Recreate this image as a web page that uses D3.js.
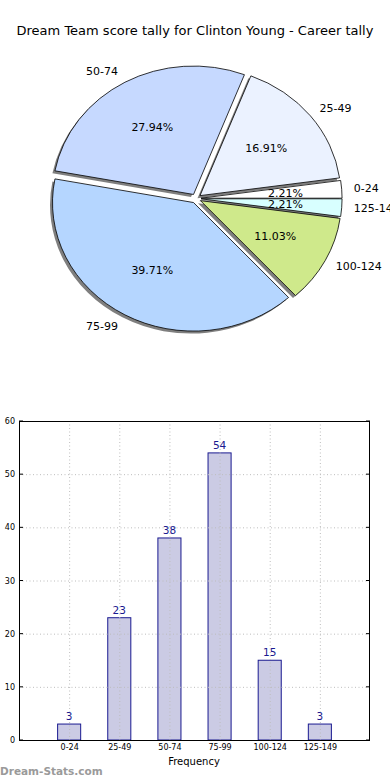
<!DOCTYPE html>
<html><head><meta charset="utf-8">
<script src="https://cdn.jsdelivr.net/npm/d3@7"></script>
<style>
html,body{margin:0;padding:0;background:#fff;}
svg{display:block;font-family:"DejaVu Sans",sans-serif;}
</style></head>
<body><svg id="c" width="390" height="780"></svg>
<script>
const title = "Dream Team score tally for Clinton Young - Career tally";
const categories = ["0-24","25-49","50-74","75-99","100-124","125-149"];
const counts = [3, 23, 38, 54, 15, 3];
const pieColors = ["#ffffff","#ebf2ff","#c6d9ff","#b5d6ff","#cfe98b","#d8ffff"];
const yTicks = [0,10,20,30,40,50,60];

const svg = d3.select("#c");
svg.append("text").attr("x",195).attr("y",35).attr("text-anchor","middle")
  .attr("font-size",13).attr("fill","#000").text(title);

// ---- Pie (matplotlib-like: start at east, counter-clockwise, elliptical) ----
const cx = 196, cy = 198.5, rx = 141, ry = 128.5, explode = 0.036;
const total = d3.sum(counts);
const pie = d3.pie().sort(null).value(d=>d)
  .startAngle(Math.PI/2).endAngle(Math.PI/2 - 2*Math.PI);
const arcs = pie(counts);
const arcGen = d3.arc().innerRadius(0).outerRadius(1);
const pieG = svg.append("g");
arcs.forEach(a=>{
  const mid = (a.startAngle + a.endAngle)/2;
  const th = Math.PI/2 - mid;
  a.th = th;
  a.ox = explode*rx*Math.cos(th);
  a.oy = -explode*ry*Math.sin(th);
});
// shadows
arcs.forEach(a=>{
  pieG.append("path").attr("d", arcGen(a))
    .attr("transform", `translate(${cx+a.ox-2.5},${cy+a.oy+2.5}) scale(${rx},${ry})`)
    .attr("fill","#000").attr("fill-opacity",0.5);
});
arcs.forEach((a,i)=>{
  pieG.append("path").attr("d", arcGen(a))
    .attr("transform", `translate(${cx+a.ox},${cy+a.oy}) scale(${rx},${ry})`)
    .attr("fill", pieColors[i]).attr("stroke","#000").attr("stroke-width",0.8)
    .attr("vector-effect","non-scaling-stroke");
});
arcs.forEach((a,i)=>{
  const c = Math.cos(a.th), s = Math.sin(a.th);
  const lx = cx + a.ox + 1.1*rx*c, ly = cy + a.oy - 1.1*ry*s;
  svg.append("text").attr("x",lx - (c>0?2:0)).attr("y",ly).attr("dy","0.35em")
    .attr("text-anchor", c>0 ? "start":"end").attr("font-size",11).attr("fill","#000")
    .text(categories[i]);
  const px = cx + a.ox + 0.6*rx*c, py = cy + a.oy - 0.6*ry*s;
  svg.append("text").attr("x",px).attr("y",py).attr("dy","0.35em")
    .attr("text-anchor","middle").attr("font-size",11).attr("fill","#000")
    .text((counts[i]/total*100).toFixed(2)+"%");
});

// ---- Bar chart ----
const L = 19, R = 370, T = 421, B = 740;
const x = d3.scaleLinear().domain([-1, 6]).range([L, R]);
const y = d3.scaleLinear().domain([0, 60]).range([B, T]);
const bw = 0.46;
const g = svg.append("g");
g.selectAll("rect.bar").data(counts).enter().append("rect")
  .attr("x",(d,i)=>x(i-bw/2)).attr("width",x(bw)-x(0))
  .attr("y",d=>y(d)).attr("height",d=>y(0)-y(d))
  .attr("fill","#cbcbe4").attr("stroke","#1a1a90").attr("stroke-width",1);
g.selectAll("line.gy").data(yTicks.slice(1,-1)).enter().append("line")
  .attr("x1",L).attr("x2",R).attr("y1",d=>y(d)+0.5).attr("y2",d=>y(d)+0.5)
  .attr("stroke","#bdbdbd").attr("stroke-dasharray","1,2.5").attr("stroke-width",1);
g.selectAll("line.gx").data(categories).enter().append("line")
  .attr("x1",(d,i)=>x(i)+0.5).attr("x2",(d,i)=>x(i)+0.5).attr("y1",T).attr("y2",B)
  .attr("stroke","#bdbdbd").attr("stroke-dasharray","1,2.5").attr("stroke-width",1);
g.append("rect").attr("x",L+0.5).attr("y",T+0.5).attr("width",R-L-1).attr("height",B-T)
  .attr("fill","none").attr("stroke","#000").attr("stroke-width",1);
const yAxis = d3.axisLeft(y).tickValues(yTicks).tickSize(0).tickPadding(4);
const ya = svg.append("g").attr("transform",`translate(${L},0)`).call(yAxis);
ya.select(".domain").remove();
ya.selectAll("text").attr("font-size",8).attr("font-family","DejaVu Sans, sans-serif").attr("fill","#000");
yTicks.forEach(v=>{
  g.append("line").attr("x1",L).attr("x2",L+4).attr("y1",y(v)).attr("y2",y(v)).attr("stroke","#000");
  g.append("line").attr("x1",R-4).attr("x2",R).attr("y1",y(v)).attr("y2",y(v)).attr("stroke","#000");
});
const xAxis = d3.axisBottom(x).tickValues(d3.range(categories.length)).tickFormat(i=>categories[i]).tickSize(0).tickPadding(4);
const xa = svg.append("g").attr("transform",`translate(0,${B})`).call(xAxis);
xa.select(".domain").remove();
xa.selectAll("text").attr("font-size",8).attr("font-family","DejaVu Sans, sans-serif").attr("fill","#000");
g.selectAll("text.val").data(counts).enter().append("text")
  .attr("x",(d,i)=>x(i)).attr("y",d=>y(d)-4).attr("text-anchor","middle")
  .attr("font-size",10.5).attr("fill","#1a1a90").text(d=>d);
svg.append("text").attr("x",194).attr("y",765).attr("text-anchor","middle")
  .attr("font-size",10).attr("fill","#000").text("Frequency");
svg.append("text").attr("x",0).attr("y",775).attr("font-size",10.5).attr("font-weight","bold")
  .attr("fill","#9a9a9a").text("Dream-Stats.com");
</script></body></html>
